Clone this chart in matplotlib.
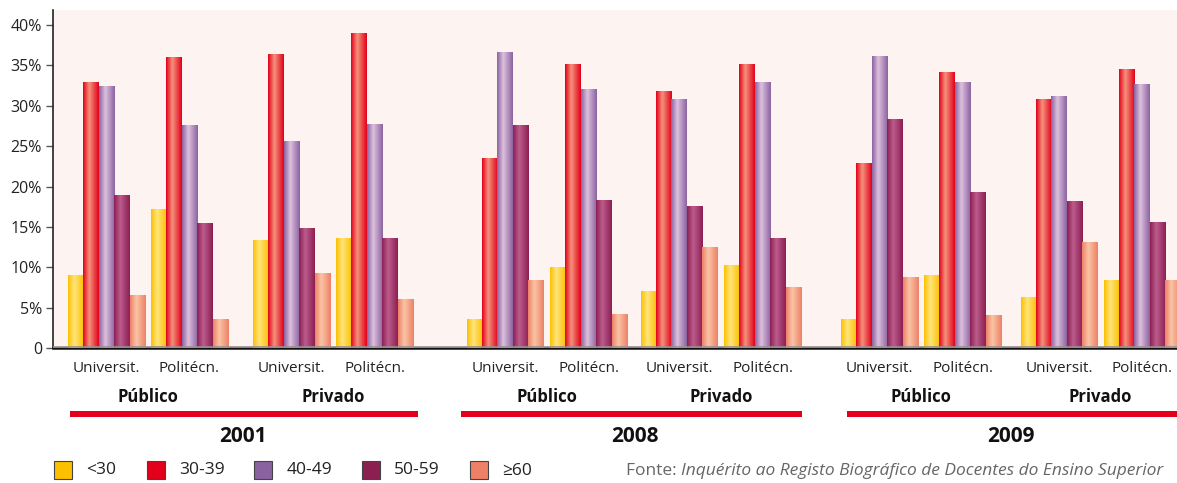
import numpy as np
import matplotlib
matplotlib.use("Agg")
import matplotlib.pyplot as plt
from matplotlib.patches import Rectangle
from matplotlib.colors import LinearSegmentedColormap

plt.rcParams['font.family'] = ['Open Sans', 'DejaVu Sans']

# ---------------- data ----------------
age_groups = ['<30', '30-39', '40-49', '50-59', '≥60']
years = ['2001', '2008', '2009']
sectors = ['Público', 'Privado']
institutions = ['Universit.', 'Politécn.']

# values per group (order: 2001 Púb Univ, Púb Polit, Priv Univ, Priv Polit, 2008 ..., 2009 ...)
v_lt30  = [9.0, 17.2, 13.4, 13.6,  3.6, 10.0,  7.0, 10.3,  3.6,  9.0,  6.3,  8.4]
v_30_39 = [32.9, 36.0, 36.4, 39.0, 23.5, 35.2, 31.8, 35.2, 22.9, 34.2, 30.8, 34.6]
v_40_49 = [32.4, 27.6, 25.6, 27.7, 36.7, 32.1, 30.8, 32.9, 36.2, 32.9, 31.2, 32.7]
v_50_59 = [18.9, 15.5, 14.9, 13.6, 27.6, 18.3, 17.6, 13.6, 28.4, 19.3, 18.2, 15.6]
v_ge60  = [6.6, 3.6, 9.3, 6.1, 8.4, 4.2, 12.5, 7.6, 8.8, 4.1, 13.1, 8.4]
series = [v_lt30, v_30_39, v_40_49, v_50_59, v_ge60]

yticks = [0, 5, 10, 15, 20, 25, 30, 35, 40]
ytick_labels = ['0', '5%', '10%', '15%', '20%', '25%', '30%', '35%', '40%']

# ---------------- style / layout ----------------
W, H = 1177, 483
base_colors = ['#fcc000', '#e2001a', '#8a62a0', '#8c1e52', '#ee8068']
light_colors = ['#ffe47a', '#f4907a', '#dcc0dc', '#bc5c8c', '#f9c4a4']
group_x = [53.5, 136.5, 238.5, 321.5, 452, 535.5, 626, 709.5, 826.5, 909.5, 1006, 1089]
bar_w = 15.4

fig = plt.figure(figsize=(W / 100, H / 100), dpi=100)
ax_left, ax_top, ax_bottom = 53, 10, 348
ax = fig.add_axes([ax_left / W, (H - ax_bottom) / H, (W - ax_left) / W, (ax_bottom - ax_top) / H])
ax.set_facecolor('#fdf4f1')

px_per_pct = (348 - 25) / 40.0
xlim = (0, W - ax_left)
ylim = (0, (ax_bottom - ax_top) / px_per_pct)

gx = np.array(group_x)
grad = np.concatenate([np.linspace(0, 1, 40), np.linspace(1, 0, 60)])[None, :]
for i, vals in enumerate(series):
    xs = gx + (i - 2) * bar_w
    bars = ax.bar(xs, vals, width=bar_w, color=base_colors[i], edgecolor='none', zorder=2)
    cmap = LinearSegmentedColormap.from_list('g%d' % i, [base_colors[i], light_colors[i]])
    for p in bars:
        x0, y0 = p.get_x(), p.get_y()
        w, h = p.get_width(), p.get_height()
        im = ax.imshow(grad, cmap=cmap, extent=(x0, x0 + w, y0, y0 + h), aspect='auto',
                       interpolation='bilinear', zorder=3)
        im.set_clip_path(p)

ax.set_xlim(*xlim)
ax.set_ylim(*ylim)

for s in ['top', 'right']:
    ax.spines[s].set_visible(False)
ax.spines['left'].set_color('#222222')
ax.spines['left'].set_linewidth(1.2)
ax.spines['bottom'].set_color('#111111')
ax.spines['bottom'].set_linewidth(1.8)
ax.axhline(0.12, color='#9a9090', lw=1.2, zorder=4)
ax.set_xticks([])
ax.set_yticks(yticks)
ax.set_yticklabels(ytick_labels, fontsize=11.5, color='#222222')
ax.tick_params(axis='y', length=5, width=1, color='#555555', pad=3)


def ftext(x, y, s, **kw):
    return fig.text(x / W, 1 - y / H, s, **kw)


# institution labels (centred under each group)
for k, x in enumerate(group_x):
    ftext(x + ax_left, 368, institutions[k % 2], ha='center', va='center', fontsize=11, color='#222222')

# sector labels (centred under each pair of groups)
for k in range(0, len(group_x), 2):
    x = (group_x[k] + group_x[k + 1]) / 2 + ax_left
    ftext(x, 397, sectors[(k // 2) % 2], ha='center', va='center', fontsize=12,
          fontweight='bold', color='#111111')

# red lines
line_spans = [(70, 418), (461, 802), (847, 1177)]
for x0, x1 in line_spans:
    fig.add_artist(Rectangle((x0 / W, 1 - 417 / H), (x1 - x0) / W, 6 / H,
                             transform=fig.transFigure, color='#e2001a', lw=0))

# year labels
year_x = [243, 635, 1011]
for yr, x in zip(years, year_x):
    ftext(x, 437, yr, ha='center', va='center', fontsize=15, fontweight='bold', color='#111111')

# legend
leg_sq = [54, 147, 254.5, 361.5, 470]
for k, (lab, x) in enumerate(zip(age_groups, leg_sq)):
    fig.add_artist(Rectangle((x / W, 1 - 479 / H), 18 / W, 18 / H, transform=fig.transFigure,
                             facecolor=base_colors[k], edgecolor='#444444', lw=0.8))
    ftext(x + 32, 470.5, lab, ha='left', va='center', fontsize=12.5, color='#222222')

# source
t1 = ftext(626, 471, 'Fonte: ', ha='left', va='center', fontsize=12.5, color='#666666')
fig.canvas.draw()
bb = t1.get_window_extent(renderer=fig.canvas.get_renderer())
ftext(bb.x1, 471, 'Inquérito ao Registo Biográfico de Docentes do Ensino Superior',
      ha='left', va='center', fontsize=12.5, color='#666666', style='italic')

fig.savefig('out.png', dpi=100)
